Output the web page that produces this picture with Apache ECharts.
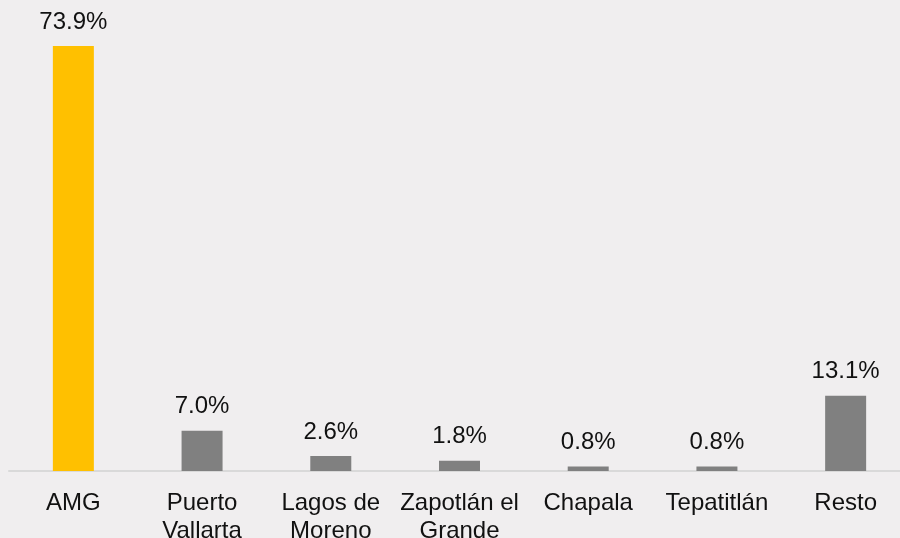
<!DOCTYPE html>
<html>
<head>
<meta charset="utf-8">
<script src="https://cdn.jsdelivr.net/npm/echarts@6/dist/echarts.min.js"></script>
<style>
  html, body { margin: 0; padding: 0; background: #f0eeef; overflow: hidden; }
  #chart { width: 920px; height: 538px; }
</style>
</head>
<body>
<div id="chart"></div>
<script>
var categories = ['AMG', 'Puerto\nVallarta', 'Lagos de\nMoreno', 'Zapotlán el\nGrande', 'Chapala', 'Tepatitlán', 'Resto'];
var shares = [73.9, 7.0, 2.6, 1.8, 0.8, 0.8, 13.1];
var highlightIndex = 0;

var font = "'Liberation Sans', Arial, Helvetica, sans-serif";
var myChart = echarts.init(document.getElementById('chart'));

var option = {
  backgroundColor: '#f0eeef',
  animation: false,
  textStyle: { fontFamily: font },
  grid: { left: 9, top: 11, width: 901, bottom: 67, outerBoundsMode: 'none', containLabel: false },
  xAxis: {
    type: 'category',
    data: categories,
    axisLine: { lineStyle: { color: '#d9d9d9', width: 2 } },
    axisTick: { show: false },
    axisLabel: {
      interval: 0,
      margin: 18,
      color: '#111',
      fontFamily: font,
      fontSize: 24,
      lineHeight: 28
    }
  },
  yAxis: {
    type: 'value',
    min: 0,
    max: 80,
    show: false,
    splitLine: { show: false }
  },
  series: [{
    type: 'bar',
    barWidth: 41,
    data: shares.map(function (v, i) {
      return { value: v, itemStyle: { color: i === highlightIndex ? '#ffc000' : '#808080' } };
    }),
    label: {
      show: true,
      position: 'top',
      distance: 12,
      color: '#111',
      fontFamily: font,
      fontSize: 24,
      formatter: function (p) { return p.value.toFixed(1) + '%'; }
    }
  }]
};

myChart.setOption(option);
</script>
</body>
</html>
